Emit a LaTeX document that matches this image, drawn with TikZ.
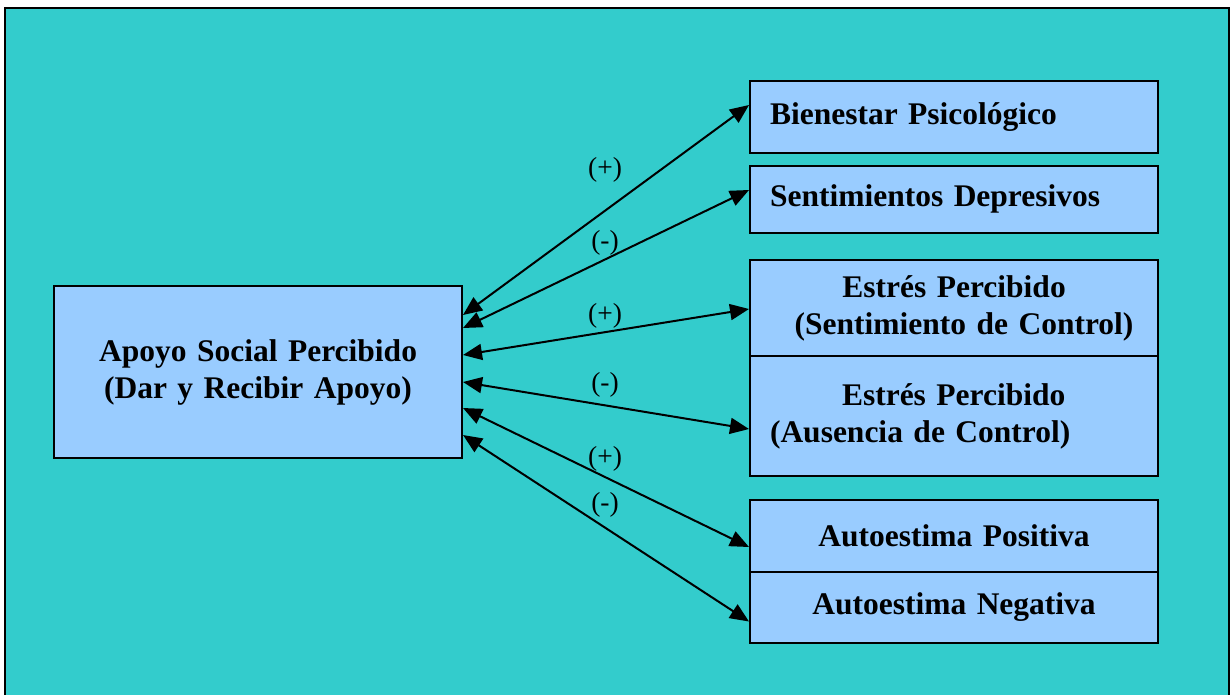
\documentclass[tikz,border=0pt]{standalone}
\usepackage{fontspec}
\setmainfont{Liberation Serif}
\usepackage{tikz}
\usetikzlibrary{positioning, arrows.meta}
\definecolor{fondo}{HTML}{33CCCC}
\definecolor{caja}{HTML}{99CCFF}
\tikzstyle{marco}  = [draw=black, line width=2.5pt, fill=fondo]
\tikzstyle{factor} = [rectangle, minimum width=408pt, minimum height=72pt, inner xsep=20pt, text width=368pt, draw=black, line width=2pt, fill=caja, font=\fontsize{31.5}{37}\selectfont\bfseries]
\tikzstyle{signo}  = [font=\fontsize{27.5}{30}\selectfont]
\tikzstyle{arrow}  = [line width=2pt, <->, >={Triangle[length=19pt,width=16pt]}]

\begin{document}
\begin{tikzpicture}[x=1pt, y=-1pt]
    \useasboundingbox (0,0) rectangle (1230,694);
    \draw [marco] (5,8) rectangle (1229,720);

    \node (apoyo) [factor, minimum height=172pt, align=center] at (258,372) {Apoyo Social Percibido\\(Dar y Recibir Apoyo)};
    \node (bien)  [factor, align=left]                          at (954,117) {Bienestar Psicológico};
    \node (sent)  [factor, minimum height=67pt, align=left]     at (954,199) {Sentimientos Depresivos};
    \node (estA)  [factor, minimum height=96pt, align=center]   at (954,308) {Estrés Percibido\\\hspace*{20pt}(Sentimiento de Control)};
    \node (estB)  [factor, minimum height=120pt, align=left, below=-2pt of estA] {\hspace*{72pt}Estrés Percibido\\(Ausencia de Control)};
    \node (autP)  [factor, align=center]                        at (954,536) {Autoestima Positiva};
    \node (autN)  [factor, minimum height=71pt, align=center, below=-2pt of autP] {Autoestima Negativa};

    \node (s1) [signo] at (605,170) {(+)};
    \node (s2) [signo] at (605,243) {(-)};
    \node (s3) [signo] at (605,316) {(+)};
    \node (s4) [signo] at (605,385) {(-)};
    \node (s5) [signo] at (605,459) {(+)};
    \node (s6) [signo] at (605,505) {(-)};

    \draw [arrow] ([yshift=57pt]apoyo.east)  -- ([yshift=12pt]bien.west);
    \draw [arrow] ([yshift=44pt]apoyo.east)  -- ([yshift=9pt]sent.west);
    \draw [arrow] ([yshift=17pt]apoyo.east)  -- ([yshift=-1pt]estA.west);
    \draw [arrow] ([yshift=-10pt]apoyo.east) -- ([yshift=-13pt]estB.west);
    \draw [arrow] ([yshift=-36pt]apoyo.east) -- ([yshift=-11pt]autP.west);
    \draw [arrow] ([yshift=-63pt]apoyo.east) -- ([yshift=-14pt]autN.west);
  \end{tikzpicture}
\end{document}
